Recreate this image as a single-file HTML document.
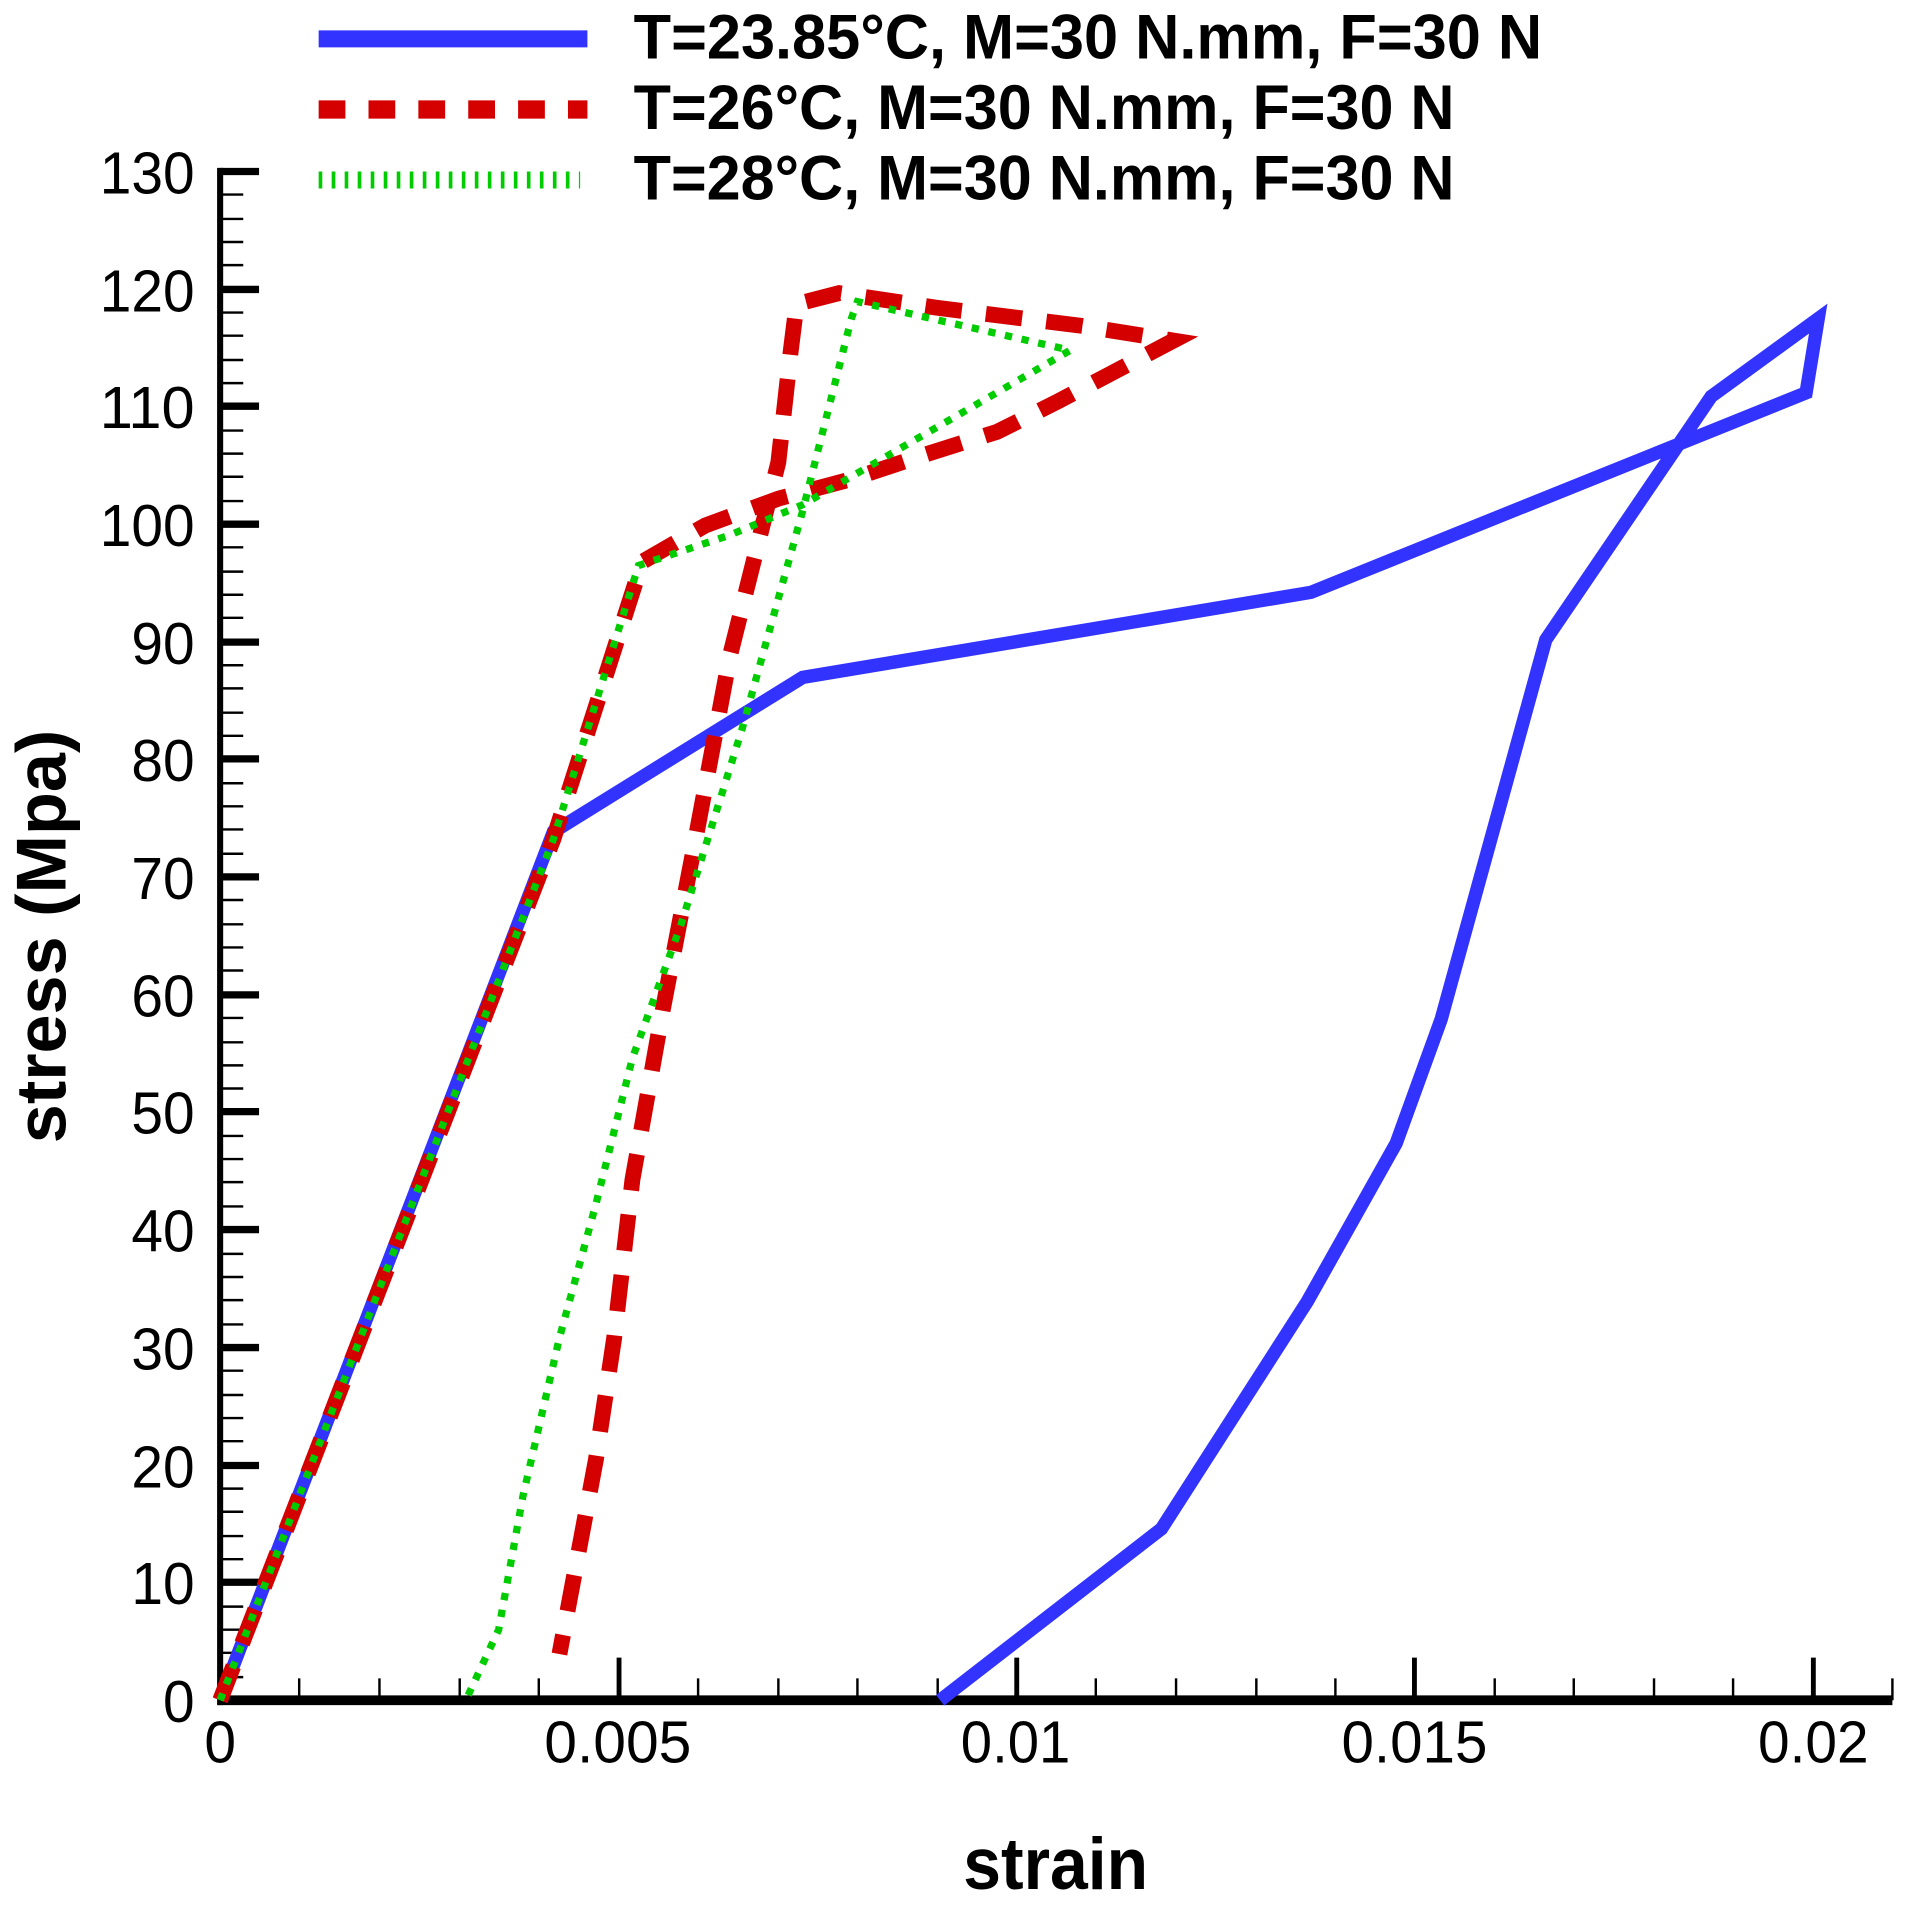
<!DOCTYPE html>
<html><head><meta charset="utf-8"><style>html,body{margin:0;padding:0;background:#fff}svg{display:block}</style></head>
<body>
<svg width="1907" height="1907" viewBox="0 0 1568 1568" xmlns="http://www.w3.org/2000/svg" font-family="Liberation Sans, Arial, sans-serif">
<rect width="1568" height="1568" fill="#fff"/>
<g stroke="#000" stroke-width="2">
<line x1="246" y1="1398" x2="246" y2="1380"/><line x1="312" y1="1398" x2="312" y2="1380"/><line x1="378" y1="1398" x2="378" y2="1380"/><line x1="443" y1="1398" x2="443" y2="1380"/>
<line x1="574" y1="1398" x2="574" y2="1380"/><line x1="640" y1="1398" x2="640" y2="1380"/><line x1="705" y1="1398" x2="705" y2="1380"/><line x1="771" y1="1398" x2="771" y2="1380"/>
<line x1="901" y1="1398" x2="901" y2="1380"/><line x1="967" y1="1398" x2="967" y2="1380"/><line x1="1033" y1="1398" x2="1033" y2="1380"/><line x1="1098" y1="1398" x2="1098" y2="1380"/>
<line x1="1229" y1="1398" x2="1229" y2="1380"/><line x1="1294" y1="1398" x2="1294" y2="1380"/><line x1="1360" y1="1398" x2="1360" y2="1380"/><line x1="1425" y1="1398" x2="1425" y2="1380"/>
<line x1="1556" y1="1398" x2="1556" y2="1380"/>
</g>
<g stroke="#000" stroke-width="4">
<line x1="509" y1="1398" x2="509" y2="1363"/><line x1="836" y1="1398" x2="836" y2="1363"/><line x1="1163" y1="1398" x2="1163" y2="1363"/><line x1="1491" y1="1398" x2="1491" y2="1363"/>
</g>
<g stroke="#000">
<path stroke-width="2" d="M181 1379h19M181 1359h19M181 1340h19M181 1321h19 M181 1282h19M181 1263h19M181 1243h19M181 1224h19 M181 1185h19M181 1166h19M181 1147h19M181 1127h19 M181 1089h19M181 1069h19M181 1050h19M181 1031h19 M181 992h19M181 972h19M181 953h19M181 934h19 M181 895h19M181 876h19M181 857h19M181 837h19 M181 798h19M181 779h19M181 760h19M181 740h19 M181 702h19M181 682h19M181 663h19M181 644h19 M181 605h19M181 586h19M181 566h19M181 547h19 M181 508h19M181 489h19M181 470h19M181 450h19 M181 412h19M181 392h19M181 373h19M181 354h19 M181 315h19M181 296h19M181 276h19M181 257h19 M181 218h19M181 199h19M181 180h19M181 160h19"/>
<path stroke-width="6" d="M181 1301h32M181 1205h32M181 1108h32M181 1011h32M181 914h32M181 818h32M181 721h32M181 624h32M181 528h32M181 431h32M181 334h32M181 238h32M181 141h32"/>
</g>
<line x1="181" y1="138" x2="181" y2="1402" stroke="#000" stroke-width="5"/>
<line x1="179" y1="1398" x2="1556" y2="1398" stroke="#000" stroke-width="8"/>
<g font-size="49" text-anchor="end" fill="#000">
<text x="160" y="1416" textLength="26" lengthAdjust="spacingAndGlyphs">0</text>
<text x="160" y="1319" textLength="52" lengthAdjust="spacingAndGlyphs">10</text>
<text x="160" y="1223" textLength="52" lengthAdjust="spacingAndGlyphs">20</text>
<text x="160" y="1126" textLength="52" lengthAdjust="spacingAndGlyphs">30</text>
<text x="160" y="1029" textLength="52" lengthAdjust="spacingAndGlyphs">40</text>
<text x="160" y="932" textLength="52" lengthAdjust="spacingAndGlyphs">50</text>
<text x="160" y="836" textLength="52" lengthAdjust="spacingAndGlyphs">60</text>
<text x="160" y="739" textLength="52" lengthAdjust="spacingAndGlyphs">70</text>
<text x="160" y="642" textLength="52" lengthAdjust="spacingAndGlyphs">80</text>
<text x="160" y="546" textLength="52" lengthAdjust="spacingAndGlyphs">90</text>
<text x="160" y="449" textLength="78" lengthAdjust="spacingAndGlyphs">100</text>
<text x="160" y="352" textLength="78" lengthAdjust="spacingAndGlyphs">110</text>
<text x="160" y="256" textLength="78" lengthAdjust="spacingAndGlyphs">120</text>
<text x="160" y="159" textLength="78" lengthAdjust="spacingAndGlyphs">130</text>
</g>
<g font-size="49" text-anchor="middle" fill="#000">
<text x="181" y="1449" textLength="26" lengthAdjust="spacingAndGlyphs">0</text>
<text x="508" y="1449" textLength="121" lengthAdjust="spacingAndGlyphs">0.005</text>
<text x="835" y="1449" textLength="90" lengthAdjust="spacingAndGlyphs">0.01</text>
<text x="1163" y="1449" textLength="120" lengthAdjust="spacingAndGlyphs">0.015</text>
<text x="1491" y="1449" textLength="91" lengthAdjust="spacingAndGlyphs">0.02</text>
</g>
<text x="868" y="1553" font-size="60" font-weight="bold" text-anchor="middle" textLength="152" lengthAdjust="spacingAndGlyphs">strain</text>
<text transform="translate(54,770) rotate(-90)" font-size="58" font-weight="bold" text-anchor="middle" textLength="340" lengthAdjust="spacingAndGlyphs">stress (Mpa)</text>
<polyline fill="none" stroke="#3333ff" stroke-width="11" stroke-linejoin="miter" points="181,1398 455,684 660,557 1078,487 1485,323 1495,262 1407,326 1271,526 1185,838 1148,940 1075,1070 955,1257 773,1398"/>
<polyline fill="none" stroke="#d40000" stroke-width="13" stroke-dasharray="30,20" points="181,1398 455,690 528,462 580,432 640,410 700,394 760,374 820,355 870,330 965,280 890,268 770,253 690,241 655,250 650,290 640,380 600,540 570,700 545,830 520,970 505,1100 490,1200 460,1360"/>
<polyline fill="none" stroke="#00cc00" stroke-width="6" stroke-dasharray="6,8" points="181,1398 455,690 525,465 600,440 660,415 880,288 705,248 700,262 660,420 610,600 560,760 520,870 490,990 460,1100 430,1230 410,1340 383,1398"/>
<line x1="262" y1="32" x2="483" y2="32" stroke="#3333ff" stroke-width="14"/>
<line x1="262" y1="90" x2="483" y2="90" stroke="#d40000" stroke-width="15" stroke-dasharray="22,19"/>
<line x1="262" y1="148" x2="477" y2="148" stroke="#00cc00" stroke-width="14" stroke-dasharray="3,7.7"/>
<g font-size="52" font-weight="bold" fill="#000">
<text x="521" y="48" textLength="747" lengthAdjust="spacingAndGlyphs">T=23.85°C, M=30 N.mm, F=30 N</text>
<text x="521" y="106" textLength="675" lengthAdjust="spacingAndGlyphs">T=26°C, M=30 N.mm, F=30 N</text>
<text x="521" y="164" textLength="675" lengthAdjust="spacingAndGlyphs">T=28°C, M=30 N.mm, F=30 N</text>
</g>
</svg>
</body></html>
